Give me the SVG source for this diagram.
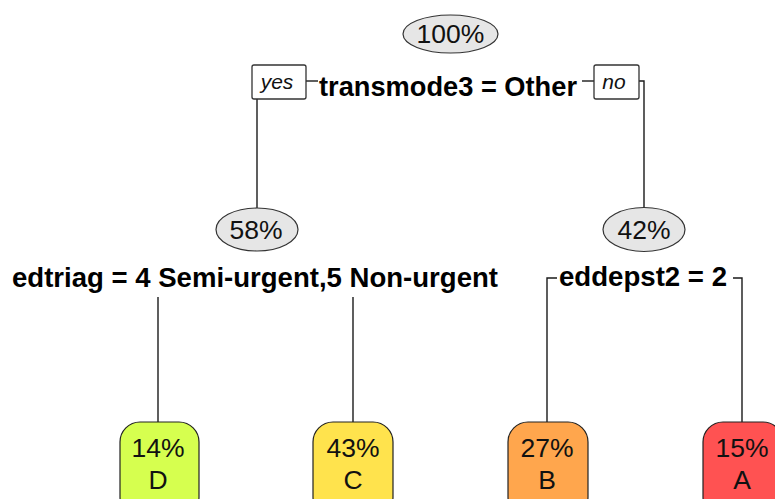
<svg xmlns="http://www.w3.org/2000/svg" width="775" height="499" viewBox="0 0 775 499">
<style>
.conn line, .conn polyline { stroke: #1a1a1a; stroke-width: 1.4; fill: none; }
.ell { fill: #e6e6e6; stroke: #333; stroke-width: 1.2; }
.pct { font-family: "Liberation Sans", Arial, sans-serif; font-size: 26.5px; fill: #111; text-anchor: middle; }
.split { font-family: "Liberation Sans", Arial, sans-serif; font-size: 27.5px; font-weight: bold; fill: #000; }
.yn { fill: #fff; stroke: #333; stroke-width: 1.3; }
.yntxt { font-family: "Liberation Sans", Arial, sans-serif; font-size: 21px; font-style: italic; fill: #111; text-anchor: middle; }
.leaf { stroke: #222; stroke-width: 1.2; }
</style>
<rect width="775" height="499" fill="#fff"/>
<g class="conn" id="connectors">
  <line x1="257" y1="99" x2="257" y2="208"/>
  <line x1="306" y1="81" x2="318" y2="81"/>
  <line x1="582" y1="81" x2="594" y2="81"/>
  <polyline points="639,81 644,81 644,207"/>
  <line x1="158" y1="297" x2="158" y2="422"/>
  <line x1="353" y1="297" x2="353" y2="422"/>
  <polyline points="557,278 547,278 547,422"/>
  <polyline points="733,278 742,278 742,422"/>
</g>
<g id="node-root">
  <ellipse class="ell" cx="450.5" cy="34" rx="47.5" ry="19"/>
  <text class="pct" x="450.5" y="43">100%</text>
  <text class="split" x="319" y="96" textLength="258" lengthAdjust="spacingAndGlyphs">transmode3 = Other</text>
</g>
<g id="label-yes">
  <rect class="yn" x="252" y="65" width="54" height="34" rx="2"/>
  <text class="yntxt" x="277" y="89">yes</text>
</g>
<g id="label-no">
  <rect class="yn" x="594" y="65" width="45" height="34" rx="2"/>
  <text class="yntxt" x="614" y="89">no</text>
</g>
<g id="node-58">
  <ellipse class="ell" cx="257" cy="229.5" rx="41" ry="21.5"/>
  <text class="pct" x="256" y="239">58%</text>
  <text class="split" x="12" y="287" textLength="486" lengthAdjust="spacingAndGlyphs">edtriag = 4 Semi-urgent,5 Non-urgent</text>
</g>
<g id="node-42">
  <ellipse class="ell" cx="644" cy="229.5" rx="41" ry="22"/>
  <text class="pct" x="644" y="239">42%</text>
  <text class="split" x="559" y="286" textLength="168" lengthAdjust="spacingAndGlyphs">eddepst2 = 2</text>
</g>
<g id="leaf-D">
  <rect class="leaf" x="120" y="422" width="79" height="95" rx="20" fill="#d6ff4f"/>
  <text class="pct" x="158" y="457">14%</text>
  <text class="pct" x="158" y="489">D</text>
</g>
<g id="leaf-C">
  <rect class="leaf" x="313" y="422" width="80" height="95" rx="20" fill="#ffe34d"/>
  <text class="pct" x="353" y="457">43%</text>
  <text class="pct" x="353" y="489">C</text>
</g>
<g id="leaf-B">
  <rect class="leaf" x="508" y="422" width="80" height="95" rx="20" fill="#ffa64d"/>
  <text class="pct" x="547" y="457">27%</text>
  <text class="pct" x="547" y="489">B</text>
</g>
<g id="leaf-A">
  <rect class="leaf" x="703" y="422" width="80" height="95" rx="20" fill="#ff5252"/>
  <text class="pct" x="742" y="457">15%</text>
  <text class="pct" x="742" y="489">A</text>
</g>
</svg>
